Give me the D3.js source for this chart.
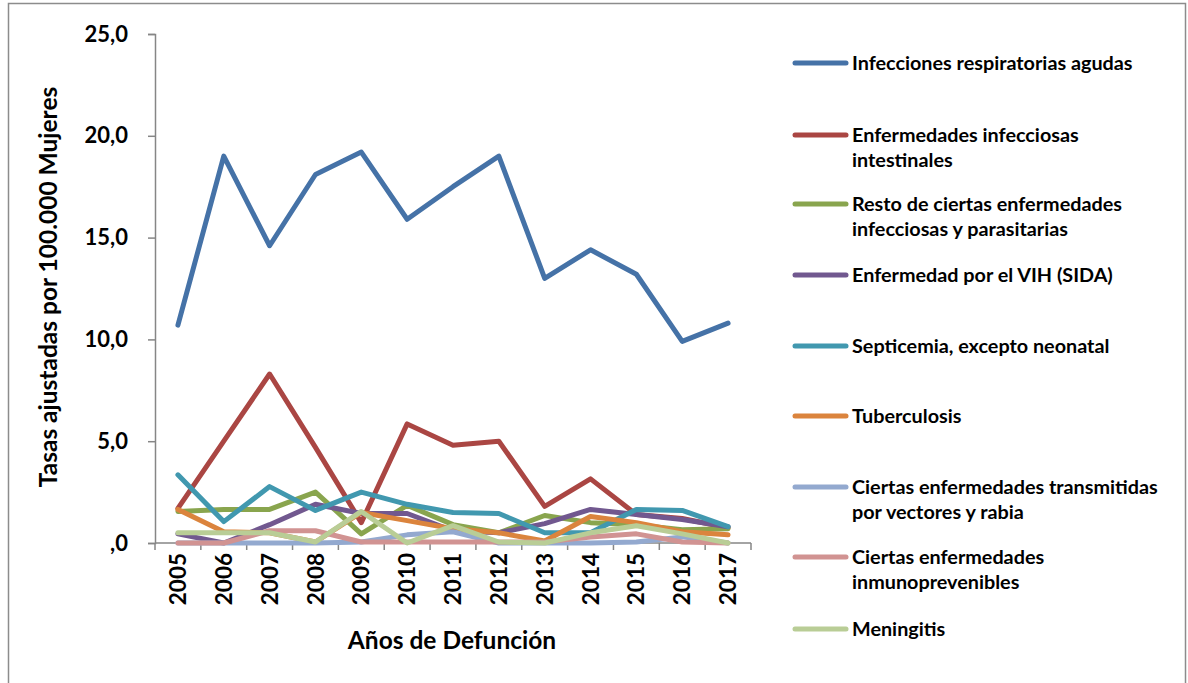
<!DOCTYPE html>
<html><head><meta charset="utf-8">
<script src="https://cdn.jsdelivr.net/npm/d3@7/dist/d3.min.js"></script>
<style>
body{margin:0;background:#fff;}
text{font-family:Lato,"Open Sans",sans-serif;font-weight:bold;fill:#000;}
</style></head><body>
<svg id="c" width="1188" height="683"></svg>
<script>
const years = ["2005","2006","2007","2008","2009","2010","2011","2012","2013","2014","2015","2016","2017"];
const seriesNames = [
  ["Infecciones respiratorias agudas"],
  ["Enfermedades infecciosas","intestinales"],
  ["Resto de ciertas enfermedades","infecciosas y parasitarias"],
  ["Enfermedad por el VIH (SIDA)"],
  ["Septicemia, excepto neonatal"],
  ["Tuberculosis"],
  ["Ciertas enfermedades transmitidas","por vectores y rabia"],
  ["Ciertas enfermedades","inmunoprevenibles"],
  ["Meningitis"]
];
const respiratorias = [10.7,19.0,14.6,18.1,19.2,15.9,17.5,19.0,13.0,14.4,13.2,9.9,10.8];
const intestinales  = [1.7,5.0,8.3,4.7,1.0,5.85,4.8,5.0,1.8,3.15,1.4,1.2,0.75];
const resto         = [1.55,1.65,1.65,2.5,0.45,1.85,0.9,0.5,1.35,1.0,0.9,0.65,0.7];
const vih           = [0.45,0.0,0.9,1.9,1.45,1.45,0.6,0.5,0.95,1.65,1.4,1.15,0.8];
const septicemia    = [3.35,1.05,2.77,1.6,2.5,1.9,1.5,1.45,0.5,0.5,1.65,1.6,0.8];
const tuberculosis  = [1.65,0.55,0.5,0.05,1.5,1.1,0.7,0.5,0.1,1.3,1.0,0.55,0.4];
const vectores      = [0.0,0.0,0.0,0.0,0.05,0.4,0.55,0.0,0.0,0.0,0.05,0.3,0.0];
const inmuno        = [0.0,0.0,0.6,0.6,0.05,0.05,0.05,0.05,0.05,0.3,0.45,0.05,0.0];
const meningitis    = [0.5,0.5,0.5,0.05,1.55,0.0,0.85,0.05,0.0,0.5,0.85,0.45,0.0];
const yTicks = [0,5,10,15,20,25];
const yTickLabels = [",0","5,0","10,0","15,0","20,0","25,0"];
const colors = ["#4572A7","#AA4643","#89A54E","#71588F","#4198AF","#DB843D","#93A9CF","#D19392","#B9CD96"];
const allSeries = [respiratorias,intestinales,resto,vih,septicemia,tuberculosis,vectores,inmuno,meningitis];

const svg = d3.select("#c");
svg.append("rect").attr("x",8.5).attr("y",3.5).attr("width",1177).attr("height",700)
  .attr("fill","none").attr("stroke","#8c8c8c").attr("stroke-width",1.5);

const L=155, R=751, T=34, B=543;
const x = d3.scaleBand().domain(years).range([L,R]);
const y = d3.scaleLinear().domain([0,25]).range([B,T]);

// y axis
const yAxis = d3.axisLeft(y).tickValues(yTicks).tickSize(7).tickFormat((d,i)=>yTickLabels[i]);
const gy = svg.append("g").attr("transform",`translate(${L},0)`).call(yAxis);
gy.select(".domain").attr("stroke","#868686").attr("stroke-width",1.5);
gy.selectAll(".tick line").attr("stroke","#868686").attr("stroke-width",1.5);
gy.selectAll(".tick text").attr("x",-27).style("font-size","22px").style("font-family","Lato").style("font-weight","bold");

// x axis
const gx = svg.append("g").attr("transform",`translate(0,${B})`);
gx.append("line").attr("x1",L).attr("x2",R).attr("stroke","#868686").attr("stroke-width",1.5);
const bounds = years.map(d=>x(d)).concat([R]);
gx.selectAll("line.tk").data(bounds).join("line").attr("class","tk")
  .attr("x1",d=>d).attr("x2",d=>d).attr("y1",0).attr("y2",7).attr("stroke","#868686").attr("stroke-width",1.5);
gx.selectAll("text.yr").data(years).join("text").attr("class","yr")
  .attr("transform",d=>`translate(${x(d)+x.bandwidth()/2},10) rotate(-90)`)
  .attr("text-anchor","end").attr("dy","0.36em").style("font-size","22.5px").text(d=>d);

// titles
svg.append("text").attr("transform","translate(48,287) rotate(-90)").attr("text-anchor","middle")
  .attr("dy","0.35em").style("font-size","24.5px").text("Tasas ajustadas por 100.000 Mujeres");
svg.append("text").attr("x",452).attr("y",640).attr("text-anchor","middle").attr("dy","0.35em")
  .style("font-size","24.5px").text("Años de Defunción");

// lines
const line = d3.line().x((d,i)=>x(years[i])+x.bandwidth()/2).y(d=>y(d));
svg.append("g").selectAll("path").data(allSeries).join("path")
  .attr("d",d=>line(d)).attr("fill","none").attr("stroke",(d,i)=>colors[i])
  .attr("stroke-width",5).attr("stroke-linejoin","round").attr("stroke-linecap","round");

// legend
const legY = [63,135,204,275,346,416,487,557,629];
const lg = svg.append("g").selectAll("g").data(seriesNames).join("g")
  .attr("transform",(d,i)=>`translate(0,${legY[i]})`);
lg.append("line").attr("x1",795).attr("x2",846).attr("stroke",(d,i)=>colors[i])
  .attr("stroke-width",5).attr("stroke-linecap","round");
lg.each(function(d){
  const t = d3.select(this).append("text").attr("x",852).attr("y",0).style("font-size","19.8px");
  d.forEach((s,j)=>t.append("tspan").attr("x",852).attr("dy", j===0?"0.35em":"25px").text(s));
});
</script></body></html>
